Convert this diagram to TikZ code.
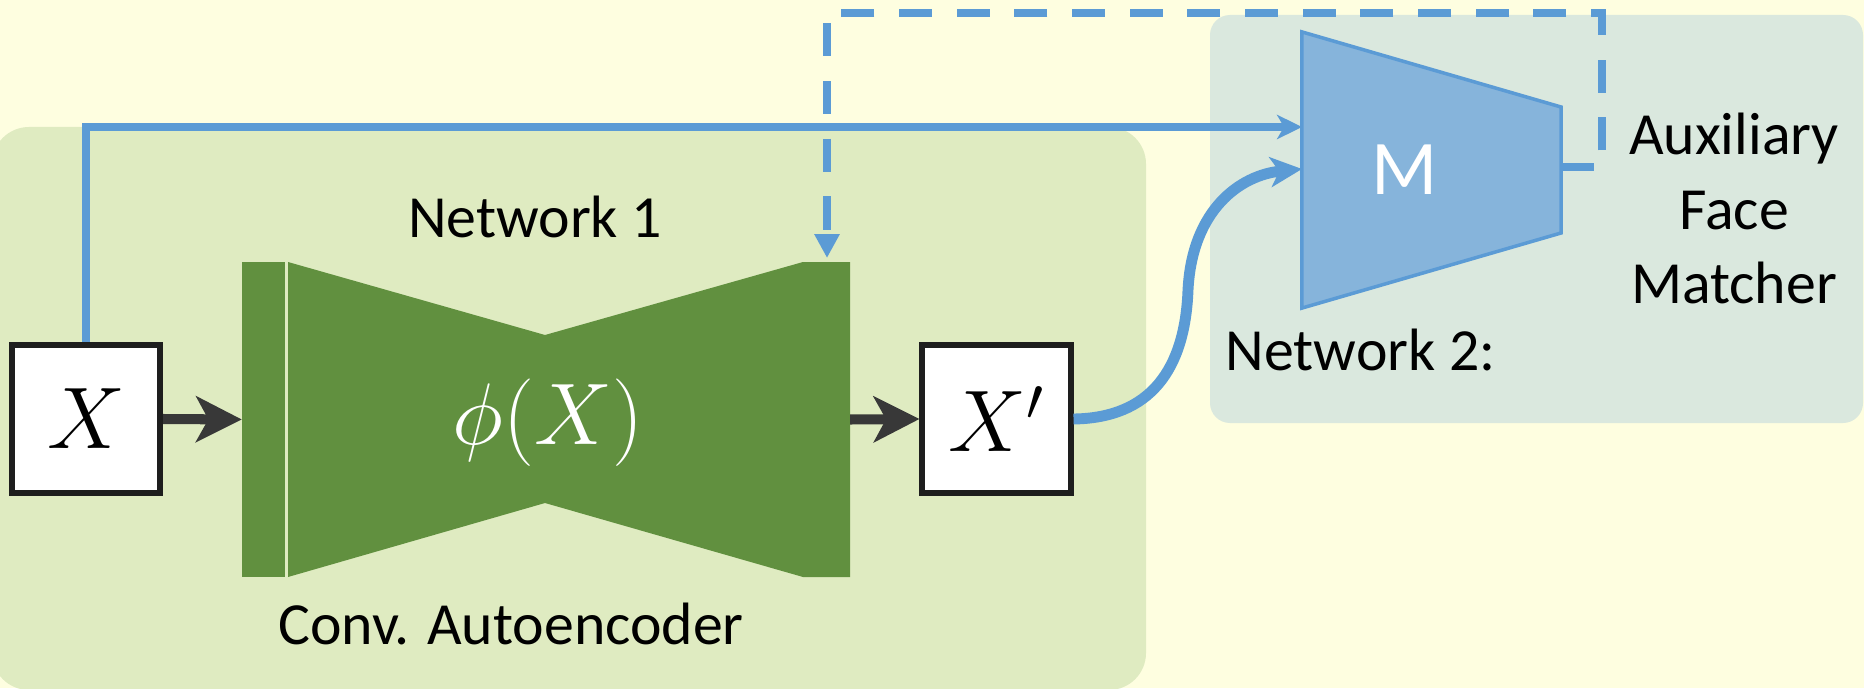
\documentclass[tikz,border=0pt]{standalone}
\usepackage{fontspec}
\newfontfamily\calib{Carlito}
\usetikzlibrary{arrows.meta}

\definecolor{bgyellow}{HTML}{FEFEE0}
\definecolor{panelgreen}{HTML}{DFEBC1}
\definecolor{panelblue}{HTML}{DAE8DE}
\definecolor{aegreen}{HTML}{61903F}
\definecolor{linkblue}{HTML}{5B9BD5}
\definecolor{mblue}{HTML}{86B4DB}
\definecolor{darkarrow}{HTML}{383838}
\definecolor{boxline}{HTML}{1E1E1E}

\tikzset{
  label text/.style={font=\calib\fontsize{17}{20}\selectfont, text=black, inner sep=0pt},
  databox/.style={draw=boxline, line width=1.7pt, fill=white, minimum size=1.48cm,
                  inner sep=0pt, font=\fontsize{24}{28}\selectfont},
  flowarrow/.style={draw=darkarrow, line width=2.85pt,
                    -{Stealth[length=13pt,width=13pt,inset=3.5pt]}},
  skiplink/.style={draw=linkblue, line width=2.4pt,
                   -{Stealth[length=7.1pt,width=6.9pt,inset=2pt]}},
  imagelink/.style={draw=linkblue, line width=3.1pt,
                   -{Stealth[length=9pt,width=8.5pt,inset=2.5pt]}},
  feedback/.style={draw=linkblue, line width=2.3pt, dash pattern=on 9.4pt off 7pt,
                   -{Triangle[length=6.8pt,width=6.8pt]}},
  hidden/.style={inner sep=0pt, outer sep=0pt}
}

\begin{document}
\begin{tikzpicture}[x=0.01cm, y=-0.01cm]
  % canvas
  \useasboundingbox (0,0) rectangle (1864,688);
  \fill[bgyellow] (0,0) rectangle (1864,688);

  % panels
  \fill[panelgreen, rounded corners=0.37cm] (-8,127) rectangle (1146,690);
  \fill[panelblue, rounded corners=0.2cm] (1210,15) rectangle (1863,423);

  % anchor nodes for the two networks
  \node[hidden, minimum width=6.08cm, minimum height=3.15cm] (ae) at (546,419.5) {};
  \node[hidden, minimum width=2.59cm, minimum height=2.76cm] (M) at (1431.5,170) {};

  % convolutional autoencoder
  \fill[aegreen] (242,262) rectangle (285,577);
  \fill[aegreen] (288,262) -- (545,335) -- (803,262) -- (850,262) -- (850,577)
                 -- (803,577) -- (545,503) -- (288,577) -- cycle;
  \node[text=white, font=\fontsize{25}{30}\selectfont] (phi) at (548,423) {$\phi(X)$};

  % auxiliary face matcher
  \filldraw[fill=mblue, draw=linkblue, line width=1pt]
    (M.north west) -- (1561,107) -- (1561,233) -- (M.south west) -- cycle;
  \node[text=white, font=\calib\fontsize{22}{26}\selectfont] (mlabel) at (1405,170) {M};

  % input and output images
  \node[databox] (X) at (86,419) {$X$};
  \node[databox] (Xp) at (996.5,419) {$X'$};

  % labels
  \node[label text, anchor=base] (net1) at (535,237) {Network 1};
  \node[label text, anchor=base] (conv) at (511,644) {Conv. Autoencoder};
  \node[label text, anchor=base west] (net2) at (1225,370) {Network 2:};
  \node[label text, anchor=base] (aux1) at (1734,155) {Auxiliary};
  \node[label text, anchor=base] (aux2) at (1734,229) {Face};
  \node[label text, anchor=base] (aux3) at (1734,303) {Matcher};

  % connection points on the matcher and the decoder
  \coordinate (Min1) at (1302,127);
  \coordinate (Min2) at (1302,169);
  \coordinate (Mout) at (1561,167);
  \coordinate (fbin) at (827,258);

  % main data flow
  \draw[flowarrow] (X.east) -- (ae.west);
  \draw[flowarrow] (ae.east) -- (Xp.west);

  % inputs of the matcher
  \draw[skiplink] (X.north) |- (Min1);
  \draw[imagelink] (Xp.east) .. controls (1150,418) and (1185,370) .. (1188,290)
                  .. controls (1192,210) and (1240,175) .. (Min2);

  % matcher feedback to the autoencoder
  \draw[feedback] (Mout) -- (1602,167) -- (1602,13) -- (827,13) -- (fbin);
\end{tikzpicture}
\end{document}
